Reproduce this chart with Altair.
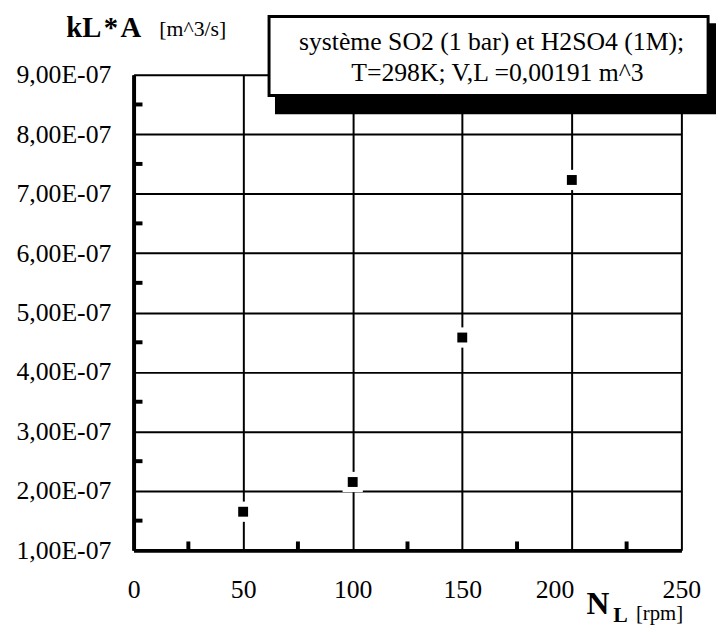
import altair as alt
import pandas as pd

# ---- data ----
N_L = [50, 100, 150, 200]
kLA = [1.65e-7, 2.15e-7, 4.58e-7, 7.23e-7]

x_ticks = [0, 50, 100, 150, 200, 250]
y_ticks = [1e-7, 2e-7, 3e-7, 4e-7, 5e-7, 6e-7, 7e-7, 8e-7, 9e-7]
x_minor = [25, 75, 125, 175, 225]
y_minor = [1.5e-7, 2.5e-7, 3.5e-7, 4.5e-7, 5.5e-7, 6.5e-7, 7.5e-7, 8.5e-7]

legend_line1 = "système SO2 (1 bar) et H2SO4 (1M);"
legend_line2 = "T=298K; V,L =0,00191 m^3"

FONT = "Liberation Serif, Times New Roman, serif"
W, H = 554, 481

df = pd.DataFrame({"N": N_L, "k": kLA})
one = pd.DataFrame({"a": [0]})

xs = alt.Scale(domain=[0, 250], nice=False, zero=False)
ys = alt.Scale(domain=[1e-7, 9e-7], nice=False, zero=False)

x_axis = alt.Axis(
    values=x_ticks, title=None, grid=True, gridColor="black", gridWidth=2, gridOpacity=1,
    ticks=False, tickSize=0, domainColor="black", domainWidth=4,
    labelFont=FONT, labelFontSize=26, labelColor="black", labelBaseline="top",
    labelPadding=27,
    labelAlign={"condition": {"test": "datum.value == 200", "value": "right"}, "value": "center"},
    labelOffset={"condition": {"test": "datum.value == 200", "value": 2}, "value": 0},
)
y_axis = alt.Axis(
    values=y_ticks, title=None, grid=True, gridColor="black", gridWidth=2, gridOpacity=1,
    ticks=False, tickSize=0, domainColor="black", domainWidth=4,
    labelFont=FONT, labelFontSize=26, labelColor="black", labelPadding=23,
    labelExpr="replace(upper(replace(format(datum.value, '.2e'), '.', ',')), 'E-', 'E-0')",
)

halo = alt.Chart(df).mark_square(size=420, color="white", opacity=1).encode(
    x=alt.X("N:Q", scale=xs, axis=x_axis),
    y=alt.Y("k:Q", scale=ys, axis=y_axis),
)
pts = alt.Chart(df).mark_square(size=100, color="black", opacity=1).encode(
    x=alt.X("N:Q", scale=xs), y=alt.Y("k:Q", scale=ys)
)

ymin_df = pd.DataFrame({"v": y_minor})
xmin_df = pd.DataFrame({"v": x_minor})
ytick_rules = alt.Chart(ymin_df).mark_rule(color="black", strokeWidth=4).encode(
    y=alt.Y("v:Q", scale=ys), x=alt.value(0), x2=alt.value(9)
)
xtick_rules = alt.Chart(xmin_df).mark_rule(color="black", strokeWidth=4).encode(
    x=alt.X("v:Q", scale=xs), y=alt.value(H), y2=alt.value(H - 9)
)

# legend box with drop shadow
shadow = alt.Chart(one).mark_rect(color="black").encode(
    x=alt.value(143), x2=alt.value(600), y=alt.value(-52), y2=alt.value(40)
)
box = alt.Chart(one).mark_rect(fill="white", stroke="black", strokeWidth=3).encode(
    x=alt.value(137), x2=alt.value(581), y=alt.value(-59), y2=alt.value(21)
)
leg1 = alt.Chart(pd.DataFrame({"t": [legend_line1]})).mark_text(
    font=FONT, fontSize=26, color="black", align="center", baseline="alphabetic"
).encode(text="t:N", x=alt.value(362), y=alt.value(-25))
leg2 = alt.Chart(pd.DataFrame({"t": [legend_line2]})).mark_text(
    font=FONT, fontSize=26, color="black", align="center", baseline="alphabetic"
).encode(text="t:N", x=alt.value(368), y=alt.value(6))

# axis titles
ytitle_a = alt.Chart(pd.DataFrame({"t": ["kL\u200a*\u200aA"]})).mark_text(
    font=FONT, fontSize=29, fontWeight="bold", color="black", align="left", baseline="alphabetic"
).encode(text="t:N", x=alt.value(-68), y=alt.value(-38))
ytitle_b = alt.Chart(pd.DataFrame({"t": ["[m^3/s]"]})).mark_text(
    font=FONT, fontSize=22, color="black", align="left", baseline="alphabetic"
).encode(text="t:N", x=alt.value(26), y=alt.value(-39))

xt_N = alt.Chart(pd.DataFrame({"t": ["N"]})).mark_text(
    font=FONT, fontSize=32, fontWeight="bold", color="black", align="left", baseline="alphabetic"
).encode(text="t:N", x=alt.value(458), y=alt.value(545))
xt_L = alt.Chart(pd.DataFrame({"t": ["L"]})).mark_text(
    font=FONT, fontSize=22, fontWeight="bold", color="black", align="left", baseline="alphabetic"
).encode(text="t:N", x=alt.value(485), y=alt.value(553))
xt_u = alt.Chart(pd.DataFrame({"t": ["[rpm]"]})).mark_text(
    font=FONT, fontSize=21, color="black", align="left", baseline="alphabetic"
).encode(text="t:N", x=alt.value(508), y=alt.value(551))

chart = alt.layer(
    halo, pts, ytick_rules, xtick_rules, shadow, box, leg1, leg2,
    ytitle_a, ytitle_b, xt_N, xt_L, xt_u,
).properties(
    width=W, height=H,
    autosize=alt.AutoSizeParams(type="none"),
    padding={"left": 127, "top": 64, "right": 35, "bottom": 74},
).configure_view(stroke=None).configure(background="white")

chart.save("out.html", embed_options={"renderer": "svg", "actions": False})
